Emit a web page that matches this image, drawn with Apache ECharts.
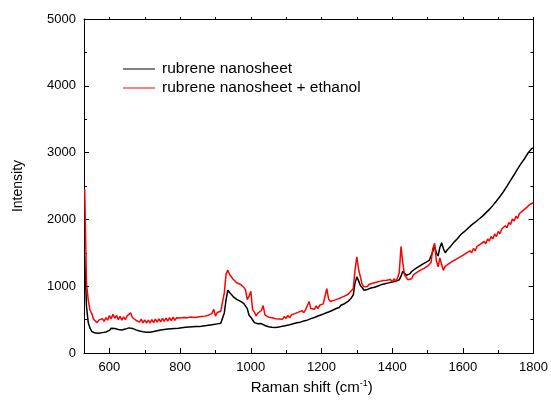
<!DOCTYPE html>
<html>
<head>
<meta charset="utf-8">
<script src="https://cdn.jsdelivr.net/npm/echarts@6/dist/echarts.min.js"></script>
<style>
  html, body { margin: 0; padding: 0; background: #fff; }
  #chart { width: 551px; height: 402px; }
</style>
</head>
<body>
<div id="chart"></div>
<script>
// Raman spectra, sampled every 5 cm-1 from 530 to 1800
const shiftStart = 530;
const shiftStep = 5;

const xMajorTicks = [600, 800, 1000, 1200, 1400, 1600, 1800];
const xMinorTicks = [700, 900, 1100, 1300, 1500, 1700];

const seriesNames = ['rubrene nanosheet', 'rubrene nanosheet + ethanol'];

const nanosheet = [
  1450, 700, 455, 372, 322, 325, 298, 310, 295, 314,
  305, 326, 315, 342, 338, 370, 364, 366, 344, 352,
  332, 345, 338, 358, 350, 376, 364, 368, 345, 346,
  324, 330, 310, 318, 297, 310, 304, 312, 302, 322,
  310, 334, 322, 344, 332, 352, 344, 358, 350, 364,
  354, 368, 358, 372, 364, 378, 368, 384, 372, 388,
  376, 392, 380, 396, 384, 395, 386, 405, 390, 412,
  400, 420, 408, 428, 412, 436, 426, 444, 440, 600,
  800, 940, 905, 892, 845, 840, 802, 808, 776, 780,
  744, 730, 665, 565, 535, 498, 455, 460, 438, 448,
  440, 446, 412, 416, 394, 404, 386, 398, 382, 404,
  388, 410, 402, 422, 412, 432, 422, 444, 438, 458,
  452, 472, 462, 486, 478, 502, 492, 518, 514, 538,
  532, 560, 554, 578, 572, 600, 594, 620, 614, 640,
  636, 664, 662, 688, 682, 714, 714, 738, 740, 772,
  782, 828, 872, 1050, 1140, 1080, 1012, 980, 940, 960,
  952, 980, 974, 996, 984, 1010, 1004, 1028, 1024, 1048,
  1038, 1060, 1050, 1072, 1064, 1086, 1074, 1102, 1094, 1150,
  1225, 1200, 1165, 1188, 1184, 1220, 1224, 1258, 1264, 1292,
  1294, 1326, 1324, 1356, 1354, 1388, 1410, 1520, 1600, 1500,
  1452, 1580, 1650, 1560, 1500, 1538, 1554, 1595, 1612, 1660,
  1672, 1715, 1732, 1778, 1785, 1820, 1828, 1872, 1872, 1918,
  1910, 1958, 1952, 2002, 2000, 2045, 2052, 2098, 2100, 2150,
  2160, 2210, 2222, 2275, 2290, 2342, 2358, 2418, 2430, 2498,
  2520, 2585, 2608, 2668, 2690, 2755, 2770, 2838, 2850, 2912,
  2930, 2998, 3010, 3062, 3070
];

const nanosheetEthanol = [
  2450, 1050, 790, 640, 590, 505, 510, 455, 492, 466,
  515, 472, 530, 492, 560, 512, 580, 520, 565, 500,
  548, 492, 542, 500, 556, 528, 600, 532, 550, 490,
  515, 462, 508, 452, 494, 446, 494, 448, 500, 456,
  508, 462, 512, 466, 518, 472, 522, 478, 530, 484,
  536, 488, 528, 504, 524, 502, 530, 510, 526, 506,
  538, 514, 532, 508, 540, 520, 546, 524, 552, 534,
  566, 540, 590, 655, 552, 606, 578, 626, 640, 900,
  1180, 1240, 1175, 1185, 1105, 1118, 1052, 1078, 1030, 1050,
  985, 945, 800, 850, 925, 650, 612, 556, 598, 578,
  636, 710, 570, 574, 536, 556, 528, 548, 514, 536,
  510, 532, 506, 548, 518, 564, 526, 572, 548, 590,
  566, 612, 588, 634, 604, 648, 632, 770, 665, 680,
  654, 706, 664, 716, 690, 735, 850, 965, 810, 772,
  750, 788, 766, 806, 784, 828, 802, 852, 828, 880,
  862, 935, 965, 1250, 1440, 1250, 1140, 1030, 990, 1012,
  995, 1030, 1006, 1044, 1020, 1058, 1032, 1072, 1046, 1084,
  1056, 1088, 1062, 1100, 1066, 1110, 1078, 1118, 1200, 1595,
  1350, 1170, 1130, 1098, 1124, 1112, 1170, 1150, 1206, 1184,
  1240, 1220, 1268, 1250, 1300, 1282, 1355, 1565, 1645, 1380,
  1290, 1425, 1320, 1240, 1296, 1282, 1336, 1312, 1372, 1344,
  1400, 1378, 1432, 1410, 1462, 1438, 1496, 1470, 1530, 1500,
  1564, 1530, 1596, 1568, 1630, 1602, 1670, 1636, 1706, 1676,
  1744, 1708, 1782, 1744, 1818, 1786, 1856, 1830, 1906, 1874,
  1954, 1922, 2006, 1974, 2046, 2014, 2088, 2060, 2132, 2104,
  2176, 2150, 2226, 2204, 2250
];

const toPairs = (values) => values.map((v, i) => [shiftStart + i * shiftStep, v]);

const font = 'Arial, "Liberation Sans", sans-serif';
const axisLine = { show: true, lineStyle: { color: '#000', width: 1 } };
const plain = (v) => String(v);

const xBase = {
  type: 'value', min: 528, max: 1800,
  splitLine: { show: false }
};
const yBase = {
  type: 'value', min: 0, max: 5000, interval: 1000,
  splitLine: { show: false }
};

var chart = echarts.init(document.getElementById('chart'), null, { renderer: 'canvas' });

chart.setOption({
  animation: false,
  backgroundColor: '#fff',
  textStyle: { fontFamily: font },
  grid: { left: 84, right: 17, top: 19, bottom: 49, containLabel: false },
  legend: {
    data: seriesNames,
    orient: 'vertical',
    left: 118, top: 56,
    icon: 'rect',
    itemWidth: 32, itemHeight: 1,
    itemGap: 3,
    textStyle: { fontSize: 15.5, color: '#000', fontFamily: font, padding: [0, 0, 0, 2] }
  },
  xAxis: [
    Object.assign({}, xBase, {
      position: 'bottom',
      axisLine,
      axisTick: { show: true, inside: true, length: 5, customValues: xMajorTicks, lineStyle: { color: '#000' } },
      axisLabel: { customValues: xMajorTicks, fontSize: 13, color: '#000', margin: 8, fontFamily: font, formatter: plain },
      name: 'Raman shift (cm{sup|-1})',
      nameLocation: 'middle',
      nameGap: 25,
      nameTextStyle: {
        fontSize: 15, color: '#000', fontFamily: font, padding: [0, 0, 0, 6],
        rich: { sup: { fontSize: 9, verticalAlign: 'top', padding: [0, 0, 8, 0], color: '#000', fontFamily: font } }
      }
    }),
    Object.assign({}, xBase, {
      position: 'bottom',
      axisLine: { show: false },
      axisTick: { show: true, inside: true, length: 3, customValues: xMinorTicks, lineStyle: { color: '#000' } },
      axisLabel: { show: false }
    }),
    Object.assign({}, xBase, {
      position: 'top',
      axisLine,
      axisTick: { show: true, inside: false, length: 2, customValues: xMajorTicks.concat(xMinorTicks), lineStyle: { color: '#000' } },
      axisLabel: { show: false }
    })
  ],
  yAxis: [
    Object.assign({}, yBase, {
      position: 'left',
      axisLine,
      axisTick: { show: true, inside: true, length: 5, lineStyle: { color: '#000' } },
      minorTick: { show: true, splitNumber: 2, length: 3, lineStyle: { color: '#000' } },
      axisLabel: { fontSize: 13, color: '#000', margin: 8, fontFamily: font, formatter: plain },
      name: 'Intensity',
      nameLocation: 'middle',
      nameGap: 59,
      nameRotate: 90,
      nameTextStyle: { fontSize: 14, color: '#000', fontFamily: font }
    }),
    Object.assign({}, yBase, {
      position: 'right',
      axisLine,
      axisTick: { show: true, inside: true, length: 5, lineStyle: { color: '#000' } },
      minorTick: { show: true, splitNumber: 2, length: 3, lineStyle: { color: '#000' } },
      axisLabel: { show: false }
    })
  ],
  series: [
    {
      name: seriesNames[0],
      type: 'line',
      data: toPairs(nanosheet),
      showSymbol: false,
      symbol: 'none',
      lineStyle: { color: '#000', width: 1.5 },
      itemStyle: { color: '#000' }
    },
    {
      name: seriesNames[1],
      type: 'line',
      data: toPairs(nanosheetEthanol),
      showSymbol: false,
      symbol: 'none',
      lineStyle: { color: '#ff0000', width: 1.5 },
      itemStyle: { color: '#ff0000' }
    }
  ]
});
</script>
</body>
</html>
